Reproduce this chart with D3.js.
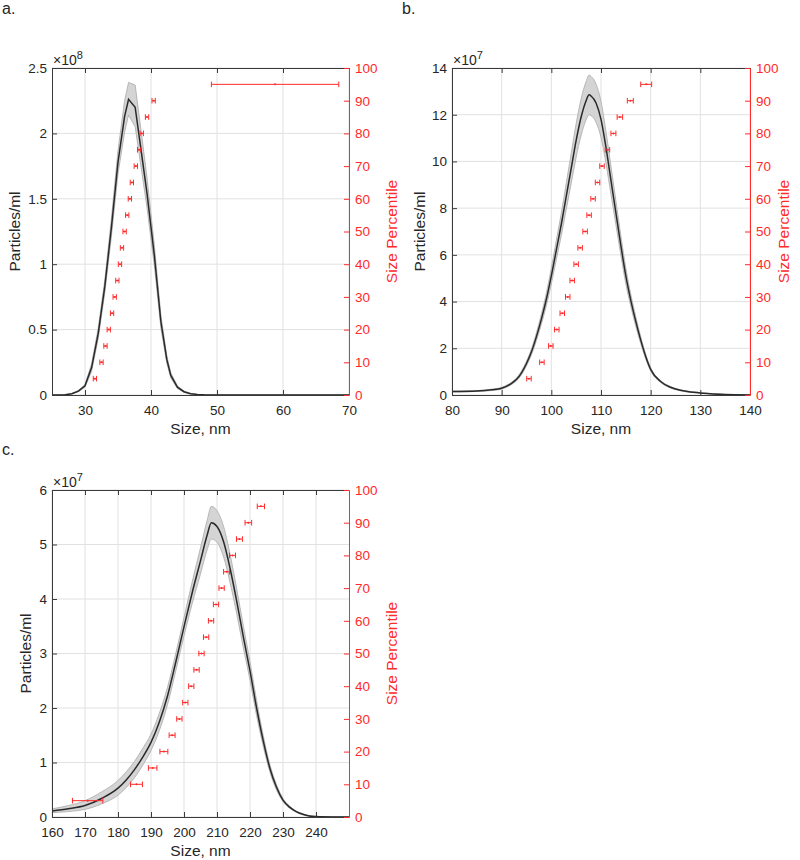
<!DOCTYPE html>
<html><head><meta charset="utf-8">
<script src="https://cdn.jsdelivr.net/npm/d3@7"></script>
<style>
body{margin:0;background:#fff}
svg{display:block}
text{font-family:"Liberation Sans",Arial,Helvetica,sans-serif}
</style>
</head><body>
<svg id="chart" width="800" height="860"></svg>
<script>
// ---------- shared ----------
const percentiles = [5,10,15,20,25,30,35,40,45,50,55,60,65,70,75,80,85,90,95];
const percentileTicks = [0,10,20,30,40,50,60,70,80,90,100];

// ---------- panel a (x 10^8 particles/ml) ----------
const aSize  = [25,26,27,28,29,30,31,32,33,34,35,36,36.6,37.6,38.5,39.4,40.5,41.5,42.4,43,44,45,46,47,48,50,70];
const aMean  = [0,0,0.002,0.01,0.03,0.07,0.21,0.47,0.83,1.28,1.78,2.13,2.26,2.2,1.87,1.54,1.07,0.56,0.27,0.15,0.06,0.025,0.01,0.004,0.001,0,0];
const aUpper = [0,0,0.003,0.012,0.035,0.08,0.24,0.51,0.88,1.35,1.87,2.25,2.39,2.37,2.02,1.66,1.15,0.61,0.3,0.17,0.07,0.03,0.013,0.005,0.002,0,0];
const aLower = [0,0,0.001,0.008,0.025,0.06,0.18,0.43,0.78,1.21,1.69,2.01,2.14,2.05,1.74,1.43,0.99,0.51,0.24,0.13,0.05,0.02,0.008,0.003,0,0,0];
const aPctSize = [31.5,32.5,33.1,33.6,34.1,34.5,34.9,35.3,35.6,36.0,36.4,36.8,37.1,37.7,38.2,38.6,39.4,40.4,58.8];
const aPctErr  = [0.25,0.25,0.25,0.25,0.25,0.25,0.25,0.25,0.25,0.25,0.25,0.25,0.25,0.25,0.25,0.25,0.25,0.25,9.65];
const aXTicks = [30,40,50,60,70];
const aYTicks = [0,0.5,1,1.5,2,2.5];

// ---------- panel b (x 10^7) ----------
const bSize  = [80,85,88,90,92,93,94,95,96,97,98,99,100,101,102,103,104,105,106,107,107.6,108,109,110,111,112,113,114,115,116,117,118,119,120,122,124,126,128,130,132,135,140];
const bMean  = [0.15,0.17,0.22,0.29,0.5,0.67,0.95,1.35,1.85,2.5,3.25,4.1,5.1,6.2,7.3,8.5,9.7,10.9,11.9,12.6,12.85,12.8,12.5,11.8,10.6,9.2,7.8,6.4,5.1,4.05,3.15,2.35,1.65,1.1,0.58,0.33,0.2,0.13,0.09,0.05,0.02,0.003];
const bUpper = [0.17,0.19,0.25,0.33,0.55,0.73,1.03,1.45,1.98,2.67,3.47,4.37,5.44,6.61,7.78,9.06,10.34,11.62,12.68,13.42,13.7,13.64,13.32,12.57,11.29,9.8,8.31,6.82,5.44,4.31,3.36,2.5,1.76,1.17,0.62,0.36,0.22,0.15,0.1,0.06,0.025,0.005];
const bLower = [0.13,0.15,0.19,0.25,0.45,0.61,0.87,1.25,1.72,2.33,3.03,3.83,4.76,5.79,6.82,7.94,9.06,10.18,11.12,11.78,12.0,11.96,11.68,11.03,9.91,8.6,7.29,5.98,4.76,3.79,2.94,2.2,1.54,1.03,0.54,0.3,0.18,0.11,0.08,0.04,0.015,0];
const bPctSize = [95.5,98.1,99.9,101.1,102.2,103.3,104.2,105.0,105.8,106.8,107.6,108.4,109.3,110.2,111.3,112.5,113.8,115.9,119.1];
const bPctErr  = [0.45,0.45,0.45,0.45,0.45,0.45,0.45,0.45,0.45,0.45,0.45,0.45,0.45,0.45,0.45,0.5,0.55,0.6,1.1];
const bXTicks = [80,90,100,110,120,130,140];
const bYTicks = [0,2,4,6,8,10,12,14];

// ---------- panel c (x 10^7) ----------
const cSize  = [160,165,170,175,180,182.5,185,187.5,190,192.5,195,197.5,200,202.5,205,207,208.3,210,212,214,216,218,220,222,224,226,228,230,232,234,236,238,240,245,250];
const cMean  = [0.11,0.15,0.21,0.34,0.53,0.68,0.87,1.1,1.37,1.74,2.22,2.84,3.49,4.12,4.7,5.17,5.4,5.33,5.05,4.55,3.95,3.3,2.68,2.0,1.4,0.9,0.55,0.31,0.18,0.1,0.05,0.02,0.01,0.002,0];
const cUpper = [0.15,0.21,0.3,0.46,0.67,0.83,1.02,1.26,1.52,1.9,2.38,3.0,3.66,4.32,4.94,5.44,5.7,5.62,5.33,4.81,4.18,3.5,2.85,2.14,1.5,0.97,0.6,0.34,0.2,0.11,0.06,0.025,0.012,0.003,0];
const cLower = [0.08,0.1,0.14,0.24,0.4,0.54,0.72,0.95,1.22,1.58,2.06,2.68,3.32,3.92,4.46,4.9,5.1,5.04,4.77,4.29,3.72,3.1,2.51,1.86,1.3,0.83,0.5,0.28,0.16,0.09,0.04,0.015,0.008,0.001,0];
const cPctSize = [170.8,185.6,190.5,193.9,196.4,198.6,200.4,202.2,203.8,205.3,206.7,208.2,209.7,211.4,212.9,214.7,216.8,219.5,223.3];
const cPctErr  = [4.6,1.8,1.3,1.2,0.9,0.8,0.8,0.8,0.8,0.8,0.8,0.8,0.8,0.8,0.9,0.9,0.9,1.0,1.1];
const cXTicks = [160,170,180,190,200,210,220,230,240];
const cYTicks = [0,1,2,3,4,5,6];

// ---------- layout / style ----------
const RED = "#ff2a2a";
const AXC = "#3a3a3a";
const panels = [
  {label:"a.", lx:2, ly:14, x0:52, x1:349, y0:68, y1:395, xDom:[25,70], yMax:2.5, exp:"8",
   xTicks:aXTicks, yTicks:aYTicks, size:aSize, mean:aMean, upper:aUpper, lower:aLower,
   pctSize:aPctSize, pctErr:aPctErr, curve:d3.curveLinear, yTitleX:15, rTitleX:392},
  {label:"b.", lx:402, ly:14, x0:452, x1:750, y0:68, y1:395, xDom:[80,140], yMax:14, exp:"7",
   xTicks:bXTicks, yTicks:bYTicks, size:bSize, mean:bMean, upper:bUpper, lower:bLower,
   pctSize:bPctSize, pctErr:bPctErr, curve:d3.curveMonotoneX, yTitleX:420, rTitleX:784},
  {label:"c.", lx:2, ly:455, x0:52, x1:349, y0:490, y1:817, xDom:[160,250], yMax:6, exp:"7",
   xTicks:cXTicks, yTicks:cYTicks, size:cSize, mean:cMean, upper:cUpper, lower:cLower,
   pctSize:cPctSize, pctErr:cPctErr, curve:d3.curveMonotoneX, yTitleX:26, rTitleX:392}
];

const svg = d3.select("#chart");

panels.forEach((p, pi) => {
  const g = svg.append("g");
  const x = d3.scaleLinear().domain(p.xDom).range([p.x0, p.x1]);
  const y = d3.scaleLinear().domain([0, p.yMax]).range([p.y1, p.y0]);
  const yr = d3.scaleLinear().domain([0, 100]).range([p.y1, p.y0]);

  const cid = "clip" + pi;
  svg.append("defs").append("clipPath").attr("id", cid)
    .append("rect").attr("x", p.x0).attr("y", p.y0 - 1).attr("width", p.x1 - p.x0).attr("height", p.y1 - p.y0 + 1);

  // grid
  g.append("g").selectAll("line").data(p.xTicks).join("line")
    .attr("x1", d => x(d)).attr("x2", d => x(d)).attr("y1", p.y0).attr("y2", p.y1)
    .attr("stroke", "#e1e1e1").attr("stroke-width", 1);
  g.append("g").selectAll("line").data(p.yTicks).join("line")
    .attr("x1", p.x0).attr("x2", p.x1).attr("y1", d => y(d)).attr("y2", d => y(d))
    .attr("stroke", "#e1e1e1").attr("stroke-width", 1);

  const pts = p.size.map((s, i) => ({s, m:p.mean[i], u:p.upper[i], l:p.lower[i]}));
  const plot = g.append("g").attr("clip-path", `url(#${cid})`);
  plot.append("path").datum(pts)
    .attr("d", d3.area().curve(p.curve).x(d => x(d.s)).y0(d => y(d.l)).y1(d => y(d.u)))
    .attr("fill", "#d4d4d4");
  plot.append("path").datum(pts)
    .attr("d", d3.line().curve(p.curve).x(d => x(d.s)).y(d => y(d.u)))
    .attr("fill", "none").attr("stroke", "#a9a9a9").attr("stroke-width", 0.8);
  plot.append("path").datum(pts)
    .attr("d", d3.line().curve(p.curve).x(d => x(d.s)).y(d => y(d.l)))
    .attr("fill", "none").attr("stroke", "#a9a9a9").attr("stroke-width", 0.8);
  plot.append("path").datum(pts)
    .attr("d", d3.line().curve(p.curve).x(d => x(d.s)).y(d => y(d.m)))
    .attr("fill", "none").attr("stroke", "#2a2a2a").attr("stroke-width", 1.5);

  // percentile error bars
  const eb = g.append("g").attr("stroke", RED).attr("stroke-width", 1);
  const pd = percentiles.map((q, i) => ({q, s:p.pctSize[i], e:p.pctErr[i]}));
  const grp = eb.selectAll("g").data(pd).join("g");
  grp.append("line").attr("x1", d => x(d.s - d.e)).attr("x2", d => x(d.s + d.e))
    .attr("y1", d => yr(d.q)).attr("y2", d => yr(d.q));
  grp.append("line").attr("x1", d => x(d.s - d.e)).attr("x2", d => x(d.s - d.e))
    .attr("y1", d => yr(d.q) - 2.8).attr("y2", d => yr(d.q) + 2.8);
  grp.append("line").attr("x1", d => x(d.s + d.e)).attr("x2", d => x(d.s + d.e))
    .attr("y1", d => yr(d.q) - 2.8).attr("y2", d => yr(d.q) + 2.8);
  grp.append("circle").attr("cx", d => x(d.s)).attr("cy", d => yr(d.q)).attr("r", 1)
    .attr("fill", RED).attr("stroke", "none");

  // axes
  const fs = "13.5px";
  const bottom = g.append("g").attr("transform", `translate(0,${p.y1})`)
    .call(d3.axisBottom(x).tickValues(p.xTicks).tickSize(-5).tickSizeOuter(0).tickPadding(10).tickFormat(d3.format("d")));
  const top = g.append("g").attr("transform", `translate(0,${p.y0})`)
    .call(d3.axisTop(x).tickValues(p.xTicks).tickSize(-5).tickSizeOuter(0).tickFormat(""));
  const left = g.append("g").attr("transform", `translate(${p.x0},0)`)
    .call(d3.axisLeft(y).tickValues(p.yTicks).tickSize(-5).tickSizeOuter(0).tickPadding(5).tickFormat(d => String(d)));
  [bottom, top, left].forEach(a => {
    a.select(".domain").attr("stroke", AXC);
    a.selectAll(".tick line").attr("stroke", AXC);
    a.selectAll("text").attr("fill", "#262626").style("font-size", fs)
      .style("font-family", '"Liberation Sans",Arial,sans-serif');
  });
  const right = g.append("g").attr("transform", `translate(${p.x1},0)`)
    .call(d3.axisRight(yr).tickValues(percentileTicks).tickSize(-5).tickSizeOuter(0).tickPadding(6));
  right.select(".domain").attr("stroke", RED);
  right.selectAll(".tick line").attr("stroke", RED);
  right.selectAll("text").attr("fill", RED).style("font-size", fs)
    .style("font-family", '"Liberation Sans",Arial,sans-serif');

  // exponent
  const ex = g.append("text").attr("x", p.x0 + 1).attr("y", p.y0 - 3)
    .attr("fill", "#262626").style("font-size", "14px");
  ex.append("tspan").text("\u00d710");
  ex.append("tspan").attr("dy", -6).style("font-size", "11px").text(p.exp);

  // titles
  const cy = (p.y0 + p.y1) / 2;
  g.append("text").attr("transform", `translate(${p.yTitleX},${cy}) rotate(-90)`)
    .attr("text-anchor", "middle").attr("dy", "0.35em")
    .attr("fill", "#262626").style("font-size", "15.5px").text("Particles/ml");
  g.append("text").attr("transform", `translate(${p.rTitleX},${cy}) rotate(-90)`)
    .attr("text-anchor", "middle").attr("dy", "0.35em")
    .attr("fill", RED).style("font-size", "15.5px").text("Size Percentile");
  g.append("text").attr("x", (p.x0 + p.x1) / 2).attr("y", p.y1 + 39)
    .attr("text-anchor", "middle").attr("fill", "#262626").style("font-size", "15.5px").text("Size, nm");
  g.append("text").attr("x", p.lx).attr("y", p.ly)
    .attr("fill", "#262626").style("font-size", "16px").text(p.label);
});
</script>
</body></html>
